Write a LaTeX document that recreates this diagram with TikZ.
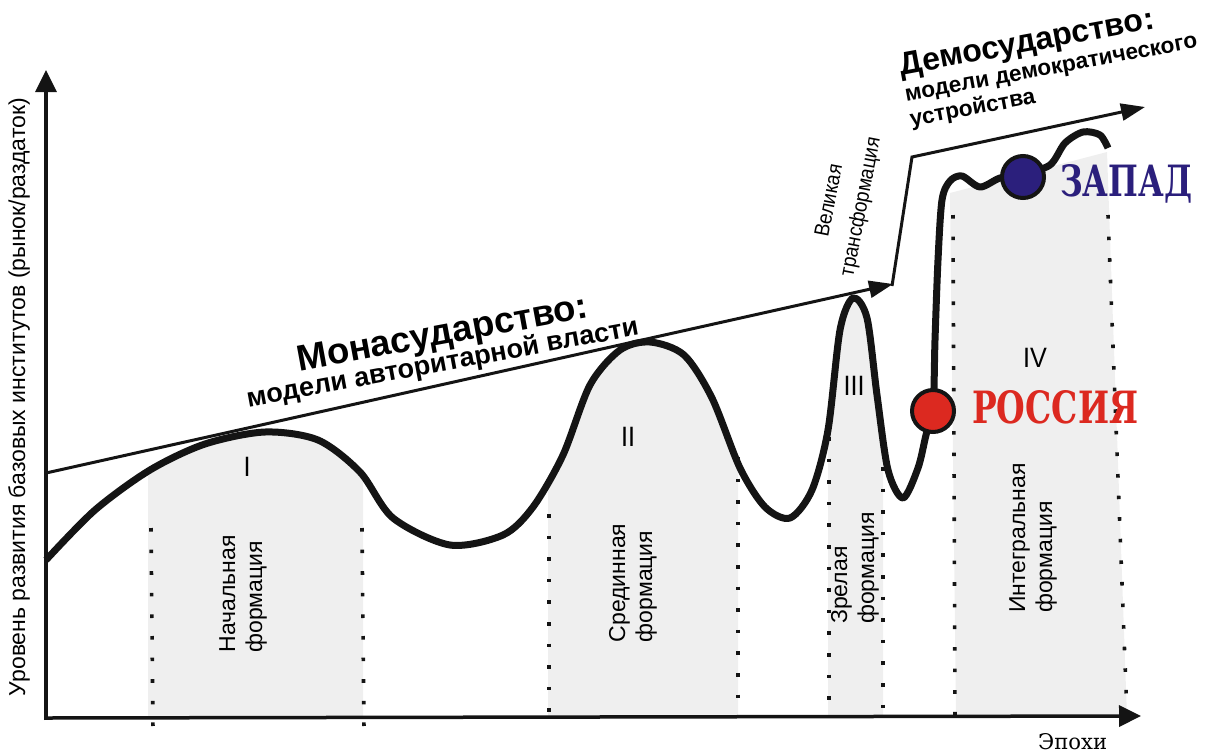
\documentclass[tikz,border=0pt]{standalone}
\usepackage{fontspec}
\setmainfont{Liberation Sans}
\newfontfamily\narrowf{Liberation Sans}[FakeStretch=0.9]
\newfontfamily\slabf{DejaVu Serif}
\usetikzlibrary{arrows.meta}
\definecolor{fillgray}{HTML}{EFEFEF}
\definecolor{westblue}{HTML}{2B1F7C}
\definecolor{russred}{HTML}{DC2920}
\definecolor{ink}{HTML}{141414}
\begin{document}
\begin{tikzpicture}[x=1pt,y=-1pt,
  mycurve/.style={insert path={plot[smooth,tension=0.5] coordinates {
    (46,560) (95,510) (150,470) (205,444) (265,432) (318,440) (360,472) (393,518)
    (450,545) (503,535) (533,507) (563,455) (590,385) (620,350) (650,342) (684,355)
    (712,398) (740,468) (765,507) (790,518) (812,490) (828,430) (840,330) (853,298)
    (867,318) (877,395) (888,470) (903,498) (918,468) (926,435) (933,410) (935,340)
    (938,260) (942,200) (950,181) (962,176) (980,187) (1000,178) (1023,174) (1050,165)
    (1065,143) (1083,132) (1100,135) (1108,148)}}},
  dotline/.style={line width=3.6pt, dash pattern=on 3.6pt off 18pt, ink},
  axisline/.style={line width=3.5pt, ink, -{Triangle[length=22pt,width=21pt]}},
  trend/.style={line width=3pt, ink, -{Triangle[length=24pt,width=17pt]}},
  formlabel/.style={rotate=90, align=left, font=\fontsize{23}{27}\selectfont},
  numeral/.style={font=\narrowf\fontsize{28}{30}\selectfont},
  dotmark/.style={circle, draw=ink, line width=4pt, minimum size=42pt, inner sep=0pt},
  biglab/.style={anchor=base west, inner sep=0pt, font=\slabf\bfseries},
]
\useasboundingbox (0,0) rectangle (1210,753);
% gray formation bands
\begin{scope}
  \clip (148,0) rectangle (363,717);
  \fill[fillgray, mycurve] -- (1210,760) -- (0,760) -- cycle;
\end{scope}
\begin{scope}
  \clip (548,0) rectangle (738,717);
  \fill[fillgray, mycurve] -- (1210,760) -- (0,760) -- cycle;
\end{scope}
\begin{scope}
  \clip (828,0) rectangle (883,717);
  \fill[fillgray, mycurve] -- (1210,760) -- (0,760) -- cycle;
\end{scope}
\fill[fillgray] (950,193) -- (1107,152) -- (1127,717) -- (956,717) -- cycle;
% dotted borders
\draw[dotline] (151,528) -- (153,730);
\draw[dotline] (362,528) -- (364,730);
\draw[dotline] (549,514) -- (549,715);
\draw[dotline] (738,457) -- (738,715);
\draw[dotline] (829,437) -- (829,715);
\draw[dotline] (883,467) -- (883,715);
\draw[dotline] (953,215) -- (955,715);
\draw[dotline] (1108,215) -- (1127,715);
% axes
\coordinate (origin) at (46,718);
\coordinate (ybase) at (46,720);
\coordinate (ytip) at (46,70);
\coordinate (xtip) at (1141,716);
\draw[axisline] (ybase) -- (ytip);
\draw[axisline] (origin) -- (xtip);
% trend arrows
\coordinate (mstart) at (46,473);
\coordinate (mtip) at (893,284);
\coordinate (dstart) at (892,286);
\coordinate (dcorner) at (912,157);
\coordinate (dtip) at (1145,107);
\draw[trend] (mstart) -- (mtip);
\draw[trend] (dstart) -- (dcorner) -- (dtip);
% main curve
\draw[line width=7pt, ink, line join=round, mycurve];
% markers
\node[dotmark, fill=russred] (rus) at (933,411) {};
\node[dotmark, fill=westblue] (west) at (1023,177) {};
% labels
\node[biglab, text=westblue] (westlab) at (1060,196) {\resizebox{132pt}{32pt}{ЗАПАД}};
\node[biglab, text=russred] (ruslab) at (972,423) {\resizebox{166pt}{33pt}{РОССИЯ}};
\node[anchor=base west, inner sep=0pt, font=\slabf] (epochs) at (1038,749) {\resizebox{69pt}{16pt}{Эпохи}};
\node[rotate=90, font=\fontsize{23}{26}\selectfont] (ylab) at (19,397) {Уровень развития базовых институтов (рынок/раздаток)};
\node[rotate=10.5, anchor=base west, font=\bfseries\fontsize{36.5}{40}\selectfont] (mtitle) at (296,372) {Монасударство:};
\node[rotate=10.5, anchor=base west, font=\bfseries\fontsize{27}{30}\selectfont] (msub) at (245,408) {модели авторитарной власти};
\node[rotate=10.5, anchor=base west, font=\bfseries\fontsize{32}{35}\selectfont] (dtitle) at (898,76) {Демосударство:};
\node[rotate=10.5, anchor=base west, font=\bfseries\fontsize{22.6}{26}\selectfont] (dsub1) at (903,102) {модели демократического};
\node[rotate=10.5, anchor=base west, font=\bfseries\fontsize{22.6}{26}\selectfont] (dsub2) at (908,127) {устройства};
\node[rotate=79, align=center, font=\narrowf\fontsize{21}{32}\selectfont] (gt) at (846,204) {Великая\\трансформация};
\node[formlabel] (f1) at (243,594) {Начальная\\формация};
\node[formlabel] (f2) at (633,583) {Срединная\\формация};
\node[formlabel] (f3) at (855,568) {Зрелая\\формация};
\node[formlabel] (f4) at (1033,538) {Интегральная\\формация};
\node[numeral] (n1) at (247,467) {I};
\node[numeral] (n2) at (628,437) {II};
\node[numeral] (n3) at (854,386) {III};
\node[numeral] (n4) at (1035,358) {IV};
\end{tikzpicture}
\end{document}
